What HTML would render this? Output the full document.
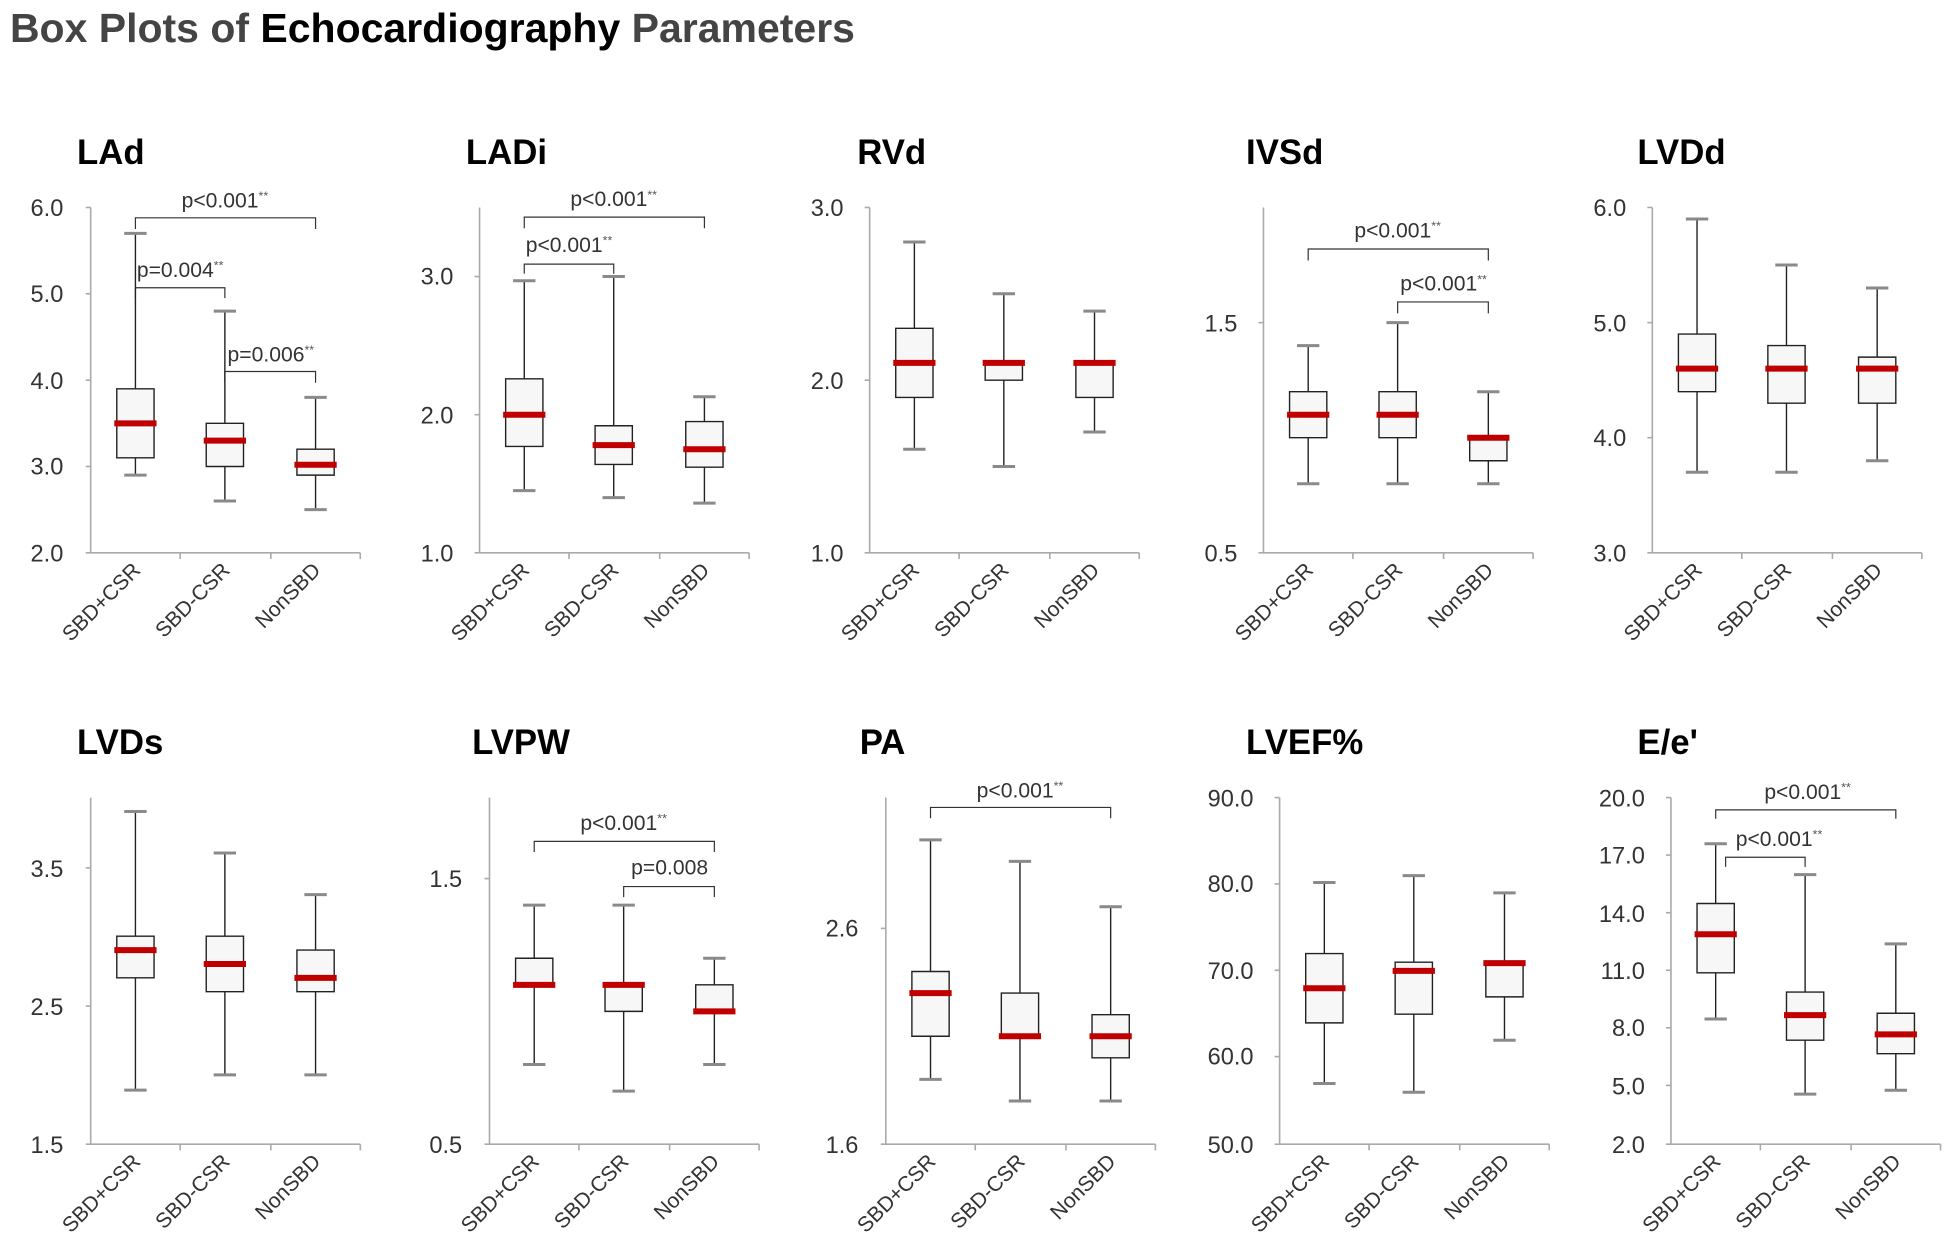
<!DOCTYPE html>
<html><head><meta charset="utf-8"><style>
html,body{margin:0;padding:0;background:#fff;}
svg{display:block;font-family:"Liberation Sans",sans-serif;}
.g line,.g rect,.g polyline{vector-effect:non-scaling-stroke;}
.wk{stroke:#222;stroke-width:1.4;}
.cp{stroke:#8a8a8a;stroke-width:3;}
.bx{fill:#f7f7f7;stroke:#222;stroke-width:1.4;}
.md{stroke:#c00000;stroke-width:6;}
.br{fill:none;stroke:#333;stroke-width:1.2;}
.ax{stroke:#aaa;stroke-width:1.3;}
.tk{font-size:19px;fill:#333;text-anchor:end;}
.ct{font-size:17px;fill:#333;text-anchor:end;}
.pt{font-size:28px;font-weight:bold;fill:#000;}
.pv{font-size:17px;fill:#333;text-anchor:middle;}
.s{font-size:10px;fill:#555;}
</style></head><body>
<svg width="1948" height="1256" viewBox="0 0 1568 1011" xmlns="http://www.w3.org/2000/svg">
<text x="8" y="34" font-size="33" font-weight="bold" fill="#444">Box Plots of <tspan fill="#000">Echocardiography</tspan> Parameters</text>

<text class="pt" x="62" y="132">LAd</text>
<text class="pt" x="375" y="132">LADi</text>
<text class="pt" x="690" y="132">RVd</text>
<text class="pt" x="1003" y="132">IVSd</text>
<text class="pt" x="1318" y="132">LVDd</text>
<text class="pt" x="62" y="607">LVDs</text>
<text class="pt" x="380" y="607">LVPW</text>
<text class="pt" x="692" y="607">PA</text>
<text class="pt" x="1003" y="607">LVEF%</text>
<text class="pt" x="1318" y="607">E/e'</text>

<g class="ax">
<line x1="73" y1="167" x2="73" y2="445"/><line x1="69" y1="445" x2="290" y2="445"/>
<line x1="145" y1="445" x2="145" y2="450"/><line x1="218" y1="445" x2="218" y2="450"/><line x1="290" y1="445" x2="290" y2="450"/>
<line x1="386" y1="167" x2="386" y2="445"/><line x1="382" y1="445" x2="603" y2="445"/>
<line x1="458" y1="445" x2="458" y2="450"/><line x1="531" y1="445" x2="531" y2="450"/><line x1="603" y1="445" x2="603" y2="450"/>
<line x1="700" y1="167" x2="700" y2="445"/><line x1="696" y1="445" x2="917" y2="445"/>
<line x1="772" y1="445" x2="772" y2="450"/><line x1="845" y1="445" x2="845" y2="450"/><line x1="917" y1="445" x2="917" y2="450"/>
<line x1="1017" y1="167" x2="1017" y2="445"/><line x1="1013" y1="445" x2="1234" y2="445"/>
<line x1="1089" y1="445" x2="1089" y2="450"/><line x1="1162" y1="445" x2="1162" y2="450"/><line x1="1234" y1="445" x2="1234" y2="450"/>
<line x1="1330" y1="167" x2="1330" y2="445"/><line x1="1326" y1="445" x2="1547" y2="445"/>
<line x1="1402" y1="445" x2="1402" y2="450"/><line x1="1475" y1="445" x2="1475" y2="450"/><line x1="1547" y1="445" x2="1547" y2="450"/>
<line x1="73" y1="642" x2="73" y2="921"/><line x1="69" y1="921" x2="290" y2="921"/>
<line x1="145" y1="921" x2="145" y2="926"/><line x1="218" y1="921" x2="218" y2="926"/><line x1="290" y1="921" x2="290" y2="926"/>
<line x1="394" y1="642" x2="394" y2="921"/><line x1="390" y1="921" x2="611" y2="921"/>
<line x1="466" y1="921" x2="466" y2="926"/><line x1="539" y1="921" x2="539" y2="926"/><line x1="611" y1="921" x2="611" y2="926"/>
<line x1="713" y1="642" x2="713" y2="921"/><line x1="709" y1="921" x2="930" y2="921"/>
<line x1="785" y1="921" x2="785" y2="926"/><line x1="858" y1="921" x2="858" y2="926"/><line x1="930" y1="921" x2="930" y2="926"/>
<line x1="1030" y1="642" x2="1030" y2="921"/><line x1="1026" y1="921" x2="1247" y2="921"/>
<line x1="1102" y1="921" x2="1102" y2="926"/><line x1="1175" y1="921" x2="1175" y2="926"/><line x1="1247" y1="921" x2="1247" y2="926"/>
<line x1="1345" y1="642" x2="1345" y2="921"/><line x1="1341" y1="921" x2="1562" y2="921"/>
<line x1="1417" y1="921" x2="1417" y2="926"/><line x1="1490" y1="921" x2="1490" y2="926"/><line x1="1562" y1="921" x2="1562" y2="926"/>
<line x1="69" y1="167" x2="73" y2="167"/><line x1="69" y1="236.5" x2="73" y2="236.5"/><line x1="69" y1="306" x2="73" y2="306"/><line x1="69" y1="375.5" x2="73" y2="375.5"/>
<line x1="382" y1="333.8" x2="386" y2="333.8"/><line x1="382" y1="222.6" x2="386" y2="222.6"/>
<line x1="696" y1="306" x2="700" y2="306"/><line x1="696" y1="167" x2="700" y2="167"/>
<line x1="1013" y1="259.7" x2="1017" y2="259.7"/>
<line x1="1326" y1="167" x2="1330" y2="167"/><line x1="1326" y1="259.7" x2="1330" y2="259.7"/><line x1="1326" y1="352.3" x2="1330" y2="352.3"/>
<line x1="69" y1="809.8" x2="73" y2="809.8"/><line x1="69" y1="698.6" x2="73" y2="698.6"/>
<line x1="390" y1="707.2" x2="394" y2="707.2"/>
<line x1="709" y1="747.3" x2="713" y2="747.3"/>
<line x1="1026" y1="642" x2="1030" y2="642"/><line x1="1026" y1="711.5" x2="1030" y2="711.5"/><line x1="1026" y1="781" x2="1030" y2="781"/><line x1="1026" y1="850.5" x2="1030" y2="850.5"/>
<line x1="1341" y1="642" x2="1345" y2="642"/><line x1="1341" y1="688.3" x2="1345" y2="688.3"/><line x1="1341" y1="734.7" x2="1345" y2="734.7"/><line x1="1341" y1="781" x2="1345" y2="781"/><line x1="1341" y1="827.3" x2="1345" y2="827.3"/><line x1="1341" y1="873.7" x2="1345" y2="873.7"/>
</g>

<text class="tk" x="51" y="174">6.0</text><text class="tk" x="51" y="243">5.0</text><text class="tk" x="51" y="313">4.0</text><text class="tk" x="51" y="382">3.0</text><text class="tk" x="51" y="452">2.0</text>
<text class="tk" x="365" y="229">3.0</text><text class="tk" x="365" y="341">2.0</text><text class="tk" x="365" y="452">1.0</text>
<text class="tk" x="679" y="174">3.0</text><text class="tk" x="679" y="313">2.0</text><text class="tk" x="679" y="452">1.0</text>
<text class="tk" x="996" y="267">1.5</text><text class="tk" x="996" y="452">0.5</text>
<text class="tk" x="1309" y="174">6.0</text><text class="tk" x="1309" y="267">5.0</text><text class="tk" x="1309" y="359">4.0</text><text class="tk" x="1309" y="452">3.0</text>
<text class="tk" x="51" y="706">3.5</text><text class="tk" x="51" y="817">2.5</text><text class="tk" x="51" y="928">1.5</text>
<text class="tk" x="372" y="714">1.5</text><text class="tk" x="372" y="928">0.5</text>
<text class="tk" x="691" y="754">2.6</text><text class="tk" x="691" y="928">1.6</text>
<text class="tk" x="1009" y="649">90.0</text><text class="tk" x="1009" y="718">80.0</text><text class="tk" x="1009" y="788">70.0</text><text class="tk" x="1009" y="857">60.0</text><text class="tk" x="1009" y="928">50.0</text>
<text class="tk" x="1324" y="649">20.0</text><text class="tk" x="1324" y="695">17.0</text><text class="tk" x="1324" y="742">14.0</text><text class="tk" x="1324" y="788">11.0</text><text class="tk" x="1324" y="834">8.0</text><text class="tk" x="1324" y="881">5.0</text><text class="tk" x="1324" y="928">2.0</text>

<g class="ct">
<text transform="translate(114,460) rotate(-45)">SBD+CSR</text><text transform="translate(186,460) rotate(-45)">SBD-CSR</text><text transform="translate(259,460) rotate(-45)">NonSBD</text>
<text transform="translate(427,460) rotate(-45)">SBD+CSR</text><text transform="translate(499,460) rotate(-45)">SBD-CSR</text><text transform="translate(572,460) rotate(-45)">NonSBD</text>
<text transform="translate(741,460) rotate(-45)">SBD+CSR</text><text transform="translate(813,460) rotate(-45)">SBD-CSR</text><text transform="translate(886,460) rotate(-45)">NonSBD</text>
<text transform="translate(1058,460) rotate(-45)">SBD+CSR</text><text transform="translate(1130,460) rotate(-45)">SBD-CSR</text><text transform="translate(1203,460) rotate(-45)">NonSBD</text>
<text transform="translate(1371,460) rotate(-45)">SBD+CSR</text><text transform="translate(1443,460) rotate(-45)">SBD-CSR</text><text transform="translate(1516,460) rotate(-45)">NonSBD</text>
<text transform="translate(114,936) rotate(-45)">SBD+CSR</text><text transform="translate(186,936) rotate(-45)">SBD-CSR</text><text transform="translate(259,936) rotate(-45)">NonSBD</text>
<text transform="translate(435,936) rotate(-45)">SBD+CSR</text><text transform="translate(507,936) rotate(-45)">SBD-CSR</text><text transform="translate(580,936) rotate(-45)">NonSBD</text>
<text transform="translate(754,936) rotate(-45)">SBD+CSR</text><text transform="translate(826,936) rotate(-45)">SBD-CSR</text><text transform="translate(899,936) rotate(-45)">NonSBD</text>
<text transform="translate(1071,936) rotate(-45)">SBD+CSR</text><text transform="translate(1143,936) rotate(-45)">SBD-CSR</text><text transform="translate(1216,936) rotate(-45)">NonSBD</text>
<text transform="translate(1386,936) rotate(-45)">SBD+CSR</text><text transform="translate(1458,936) rotate(-45)">SBD-CSR</text><text transform="translate(1531,936) rotate(-45)">NonSBD</text>
</g>

<g class="g" transform="translate(73,445) scale(1,-69.5) translate(0,-2)">
<polyline class="br" points="36,5.75 36,5.88 181,5.88 181,5.75"/>
<polyline class="br" points="36,4.95 36,5.07 108,5.07 108,4.95"/>
<polyline class="br" points="108,3.97 108,4.1 181,4.1 181,3.97"/>
<line class="wk" x1="36" y1="2.9" x2="36" y2="5.7"/><rect class="bx" x="21" y="3.1" width="30" height="0.8"/><line class="cp" x1="27" y1="2.9" x2="45" y2="2.9"/><line class="cp" x1="27" y1="5.7" x2="45" y2="5.7"/><line class="md" x1="19" y1="3.5" x2="53" y2="3.5"/>
<line class="wk" x1="108" y1="2.6" x2="108" y2="4.8"/><rect class="bx" x="93" y="3.0" width="30" height="0.5"/><line class="cp" x1="99" y1="2.6" x2="117" y2="2.6"/><line class="cp" x1="99" y1="4.8" x2="117" y2="4.8"/><line class="md" x1="91" y1="3.3" x2="125" y2="3.3"/>
<line class="wk" x1="181" y1="2.5" x2="181" y2="3.8"/><rect class="bx" x="166" y="2.9" width="30" height="0.3"/><line class="cp" x1="172" y1="2.5" x2="190" y2="2.5"/><line class="cp" x1="172" y1="3.8" x2="190" y2="3.8"/><line class="md" x1="164" y1="3.02" x2="198" y2="3.02"/>
</g>
<text class="pv" x="181" y="167">p&lt;0.001<tspan class="s" dy="-6">**</tspan></text>
<text class="pv" x="145" y="223">p=0.004<tspan class="s" dy="-6">**</tspan></text>
<text class="pv" x="218" y="291">p=0.006<tspan class="s" dy="-6">**</tspan></text>

<g class="g" transform="translate(386,445) scale(1,-111.2) translate(0,-1)">
<polyline class="br" points="36,3.35 36,3.43 181,3.43 181,3.35"/>
<polyline class="br" points="36,3.02 36,3.09 108,3.09 108,3.02"/>
<line class="wk" x1="36" y1="1.45" x2="36" y2="2.97"/><rect class="bx" x="21" y="1.77" width="30" height="0.49"/><line class="cp" x1="27" y1="1.45" x2="45" y2="1.45"/><line class="cp" x1="27" y1="2.97" x2="45" y2="2.97"/><line class="md" x1="19" y1="2.0" x2="53" y2="2.0"/>
<line class="wk" x1="108" y1="1.4" x2="108" y2="3.0"/><rect class="bx" x="93" y="1.64" width="30" height="0.28"/><line class="cp" x1="99" y1="1.4" x2="117" y2="1.4"/><line class="cp" x1="99" y1="3.0" x2="117" y2="3.0"/><line class="md" x1="91" y1="1.78" x2="125" y2="1.78"/>
<line class="wk" x1="181" y1="1.36" x2="181" y2="2.13"/><rect class="bx" x="166" y="1.62" width="30" height="0.33"/><line class="cp" x1="172" y1="1.36" x2="190" y2="1.36"/><line class="cp" x1="172" y1="2.13" x2="190" y2="2.13"/><line class="md" x1="164" y1="1.75" x2="198" y2="1.75"/>
</g>
<text class="pv" x="494" y="166">p&lt;0.001<tspan class="s" dy="-6">**</tspan></text>
<text class="pv" x="458" y="203">p&lt;0.001<tspan class="s" dy="-6">**</tspan></text>

<g class="g" transform="translate(700,445) scale(1,-139) translate(0,-1)">
<line class="wk" x1="36" y1="1.6" x2="36" y2="2.8"/><rect class="bx" x="21" y="1.9" width="30" height="0.4"/><line class="cp" x1="27" y1="1.6" x2="45" y2="1.6"/><line class="cp" x1="27" y1="2.8" x2="45" y2="2.8"/><line class="md" x1="19" y1="2.1" x2="53" y2="2.1"/>
<line class="wk" x1="108" y1="1.5" x2="108" y2="2.5"/><rect class="bx" x="93" y="2.0" width="30" height="0.1"/><line class="cp" x1="99" y1="1.5" x2="117" y2="1.5"/><line class="cp" x1="99" y1="2.5" x2="117" y2="2.5"/><line class="md" x1="91" y1="2.1" x2="125" y2="2.1"/>
<line class="wk" x1="181" y1="1.7" x2="181" y2="2.4"/><rect class="bx" x="166" y="1.9" width="30" height="0.2"/><line class="cp" x1="172" y1="1.7" x2="190" y2="1.7"/><line class="cp" x1="172" y1="2.4" x2="190" y2="2.4"/><line class="md" x1="164" y1="2.1" x2="198" y2="2.1"/>
</g>

<g class="g" transform="translate(1017,445) scale(1,-185.3) translate(0,-0.5)">
<polyline class="br" points="36,1.77 36,1.82 181,1.82 181,1.77"/>
<polyline class="br" points="108,1.54 108,1.59 181,1.59 181,1.54"/>
<line class="wk" x1="36" y1="0.8" x2="36" y2="1.4"/><rect class="bx" x="21" y="1.0" width="30" height="0.2"/><line class="cp" x1="27" y1="0.8" x2="45" y2="0.8"/><line class="cp" x1="27" y1="1.4" x2="45" y2="1.4"/><line class="md" x1="19" y1="1.1" x2="53" y2="1.1"/>
<line class="wk" x1="108" y1="0.8" x2="108" y2="1.5"/><rect class="bx" x="93" y="1.0" width="30" height="0.2"/><line class="cp" x1="99" y1="0.8" x2="117" y2="0.8"/><line class="cp" x1="99" y1="1.5" x2="117" y2="1.5"/><line class="md" x1="91" y1="1.1" x2="125" y2="1.1"/>
<line class="wk" x1="181" y1="0.8" x2="181" y2="1.2"/><rect class="bx" x="166" y="0.9" width="30" height="0.1"/><line class="cp" x1="172" y1="0.8" x2="190" y2="0.8"/><line class="cp" x1="172" y1="1.2" x2="190" y2="1.2"/><line class="md" x1="164" y1="1.0" x2="198" y2="1.0"/>
</g>
<text class="pv" x="1125" y="191">p&lt;0.001<tspan class="s" dy="-6">**</tspan></text>
<text class="pv" x="1162" y="234">p&lt;0.001<tspan class="s" dy="-6">**</tspan></text>

<g class="g" transform="translate(1330,445) scale(1,-92.67) translate(0,-3)">
<line class="wk" x1="36" y1="3.7" x2="36" y2="5.9"/><rect class="bx" x="21" y="4.4" width="30" height="0.5"/><line class="cp" x1="27" y1="3.7" x2="45" y2="3.7"/><line class="cp" x1="27" y1="5.9" x2="45" y2="5.9"/><line class="md" x1="19" y1="4.6" x2="53" y2="4.6"/>
<line class="wk" x1="108" y1="3.7" x2="108" y2="5.5"/><rect class="bx" x="93" y="4.3" width="30" height="0.5"/><line class="cp" x1="99" y1="3.7" x2="117" y2="3.7"/><line class="cp" x1="99" y1="5.5" x2="117" y2="5.5"/><line class="md" x1="91" y1="4.6" x2="125" y2="4.6"/>
<line class="wk" x1="181" y1="3.8" x2="181" y2="5.3"/><rect class="bx" x="166" y="4.3" width="30" height="0.4"/><line class="cp" x1="172" y1="3.8" x2="190" y2="3.8"/><line class="cp" x1="172" y1="5.3" x2="190" y2="5.3"/><line class="md" x1="164" y1="4.6" x2="198" y2="4.6"/>
</g>

<g class="g" transform="translate(73,921) scale(1,-111.6) translate(0,-1.5)">
<line class="wk" x1="36" y1="1.89" x2="36" y2="3.9"/><rect class="bx" x="21" y="2.7" width="30" height="0.3"/><line class="cp" x1="27" y1="1.89" x2="45" y2="1.89"/><line class="cp" x1="27" y1="3.9" x2="45" y2="3.9"/><line class="md" x1="19" y1="2.9" x2="53" y2="2.9"/>
<line class="wk" x1="108" y1="2.0" x2="108" y2="3.6"/><rect class="bx" x="93" y="2.6" width="30" height="0.4"/><line class="cp" x1="99" y1="2.0" x2="117" y2="2.0"/><line class="cp" x1="99" y1="3.6" x2="117" y2="3.6"/><line class="md" x1="91" y1="2.8" x2="125" y2="2.8"/>
<line class="wk" x1="181" y1="2.0" x2="181" y2="3.3"/><rect class="bx" x="166" y="2.6" width="30" height="0.3"/><line class="cp" x1="172" y1="2.0" x2="190" y2="2.0"/><line class="cp" x1="172" y1="3.3" x2="190" y2="3.3"/><line class="md" x1="164" y1="2.7" x2="198" y2="2.7"/>
</g>

<g class="g" transform="translate(394,921) scale(1,-213.8) translate(0,-0.5)">
<polyline class="br" points="36,1.6 36,1.64 181,1.64 181,1.6"/>
<polyline class="br" points="108,1.43 108,1.47 181,1.47 181,1.43"/>
<line class="wk" x1="36" y1="0.8" x2="36" y2="1.4"/><rect class="bx" x="21" y="1.1" width="30" height="0.1"/><line class="cp" x1="27" y1="0.8" x2="45" y2="0.8"/><line class="cp" x1="27" y1="1.4" x2="45" y2="1.4"/><line class="md" x1="19" y1="1.1" x2="53" y2="1.1"/>
<line class="wk" x1="108" y1="0.7" x2="108" y2="1.4"/><rect class="bx" x="93" y="1.0" width="30" height="0.1"/><line class="cp" x1="99" y1="0.7" x2="117" y2="0.7"/><line class="cp" x1="99" y1="1.4" x2="117" y2="1.4"/><line class="md" x1="91" y1="1.1" x2="125" y2="1.1"/>
<line class="wk" x1="181" y1="0.8" x2="181" y2="1.2"/><rect class="bx" x="166" y="1.0" width="30" height="0.1"/><line class="cp" x1="172" y1="0.8" x2="190" y2="0.8"/><line class="cp" x1="172" y1="1.2" x2="190" y2="1.2"/><line class="md" x1="164" y1="1.0" x2="198" y2="1.0"/>
</g>
<text class="pv" x="502" y="668">p&lt;0.001<tspan class="s" dy="-6">**</tspan></text>
<text class="pv" x="539" y="704">p=0.008</text>

<g class="g" transform="translate(713,921) scale(1,-173.75) translate(0,-1.6)">
<polyline class="br" points="36,3.11 36,3.16 181,3.16 181,3.11"/>
<line class="wk" x1="36" y1="1.9" x2="36" y2="3.01"/><rect class="bx" x="21" y="2.1" width="30" height="0.3"/><line class="cp" x1="27" y1="1.9" x2="45" y2="1.9"/><line class="cp" x1="27" y1="3.01" x2="45" y2="3.01"/><line class="md" x1="19" y1="2.3" x2="53" y2="2.3"/>
<line class="wk" x1="108" y1="1.8" x2="108" y2="2.91"/><rect class="bx" x="93" y="2.1" width="30" height="0.2"/><line class="cp" x1="99" y1="1.8" x2="117" y2="1.8"/><line class="cp" x1="99" y1="2.91" x2="117" y2="2.91"/><line class="md" x1="91" y1="2.1" x2="125" y2="2.1"/>
<line class="wk" x1="181" y1="1.8" x2="181" y2="2.7"/><rect class="bx" x="166" y="2.0" width="30" height="0.2"/><line class="cp" x1="172" y1="1.8" x2="190" y2="1.8"/><line class="cp" x1="172" y1="2.7" x2="190" y2="2.7"/><line class="md" x1="164" y1="2.1" x2="198" y2="2.1"/>
</g>
<text class="pv" x="821" y="642">p&lt;0.001<tspan class="s" dy="-6">**</tspan></text>

<g class="g" transform="translate(1030,921) scale(1,-6.975) translate(0,-50)">
<line class="wk" x1="36" y1="57" x2="36" y2="80.2"/><rect class="bx" x="21" y="64" width="30" height="8"/><line class="cp" x1="27" y1="57" x2="45" y2="57"/><line class="cp" x1="27" y1="80.2" x2="45" y2="80.2"/><line class="md" x1="19" y1="68" x2="53" y2="68"/>
<line class="wk" x1="108" y1="56" x2="108" y2="81"/><rect class="bx" x="93" y="65" width="30" height="6"/><line class="cp" x1="99" y1="56" x2="117" y2="56"/><line class="cp" x1="99" y1="81" x2="117" y2="81"/><line class="md" x1="91" y1="70" x2="125" y2="70"/>
<line class="wk" x1="181" y1="62" x2="181" y2="79"/><rect class="bx" x="166" y="67" width="30" height="4"/><line class="cp" x1="172" y1="62" x2="190" y2="62"/><line class="cp" x1="172" y1="79" x2="190" y2="79"/><line class="md" x1="164" y1="70.9" x2="198" y2="70.9"/>
</g>

<g class="g" transform="translate(1345,921) scale(1,-15.5) translate(0,-2)">
<polyline class="br" points="36,18.9 36,19.36 181,19.36 181,18.9"/>
<polyline class="br" points="44,16.4 44,16.9 108,16.9 108,16.4"/>
<line class="wk" x1="36" y1="8.5" x2="36" y2="17.6"/><rect class="bx" x="21" y="10.9" width="30" height="3.6"/><line class="cp" x1="27" y1="8.5" x2="45" y2="8.5"/><line class="cp" x1="27" y1="17.6" x2="45" y2="17.6"/><line class="md" x1="19" y1="12.9" x2="53" y2="12.9"/>
<line class="wk" x1="108" y1="4.6" x2="108" y2="16"/><rect class="bx" x="93" y="7.4" width="30" height="2.5"/><line class="cp" x1="99" y1="4.6" x2="117" y2="4.6"/><line class="cp" x1="99" y1="16" x2="117" y2="16"/><line class="md" x1="91" y1="8.7" x2="125" y2="8.7"/>
<line class="wk" x1="181" y1="4.8" x2="181" y2="12.4"/><rect class="bx" x="166" y="6.7" width="30" height="2.1"/><line class="cp" x1="172" y1="4.8" x2="190" y2="4.8"/><line class="cp" x1="172" y1="12.4" x2="190" y2="12.4"/><line class="md" x1="164" y1="7.7" x2="198" y2="7.7"/>
</g>
<text class="pv" x="1455" y="643">p&lt;0.001<tspan class="s" dy="-6">**</tspan></text>
<text class="pv" x="1432" y="681">p&lt;0.001<tspan class="s" dy="-6">**</tspan></text>
</svg>
</body></html>
